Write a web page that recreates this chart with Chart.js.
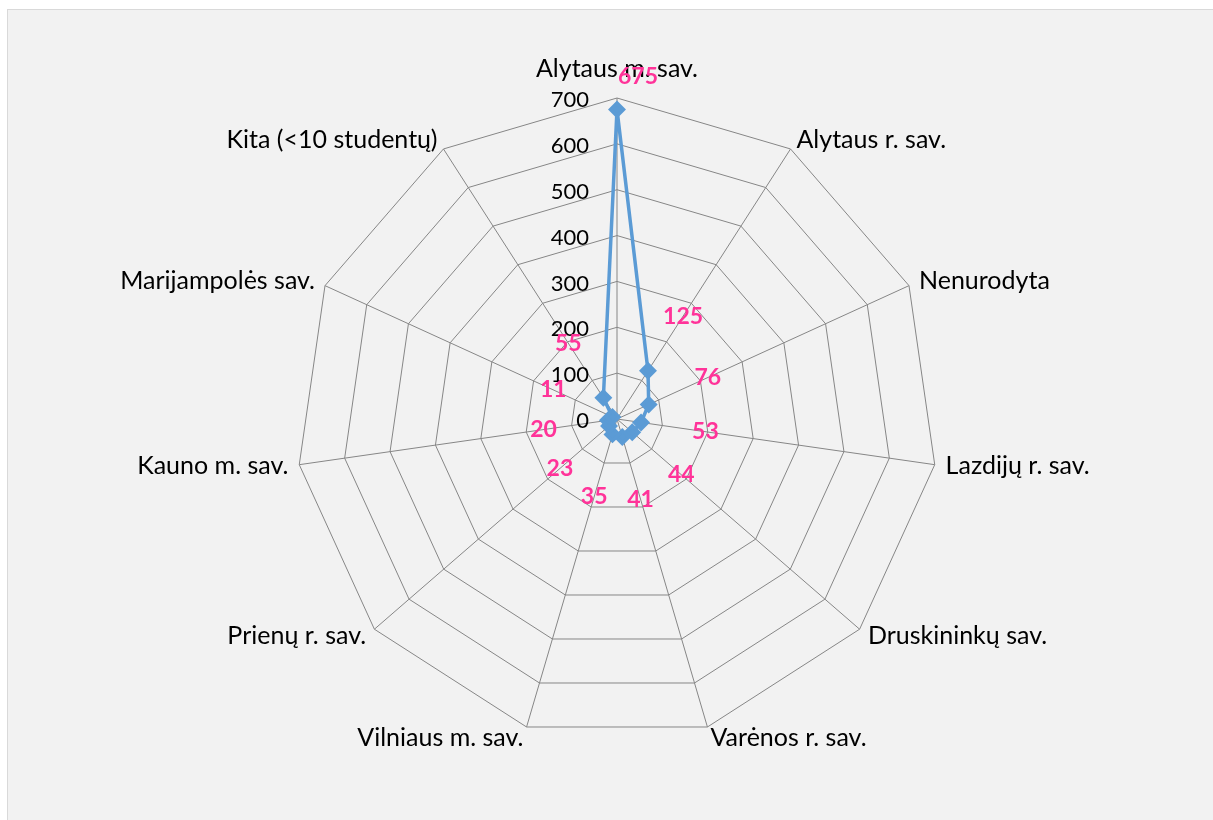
<!DOCTYPE html>
<html>
<head>
<meta charset="utf-8">
<script src="https://cdn.jsdelivr.net/npm/chart.js"></script>
<style>
html, body { margin: 0; padding: 0; background: #fff; }
#frame { position: absolute; left: 7px; top: 9px; width: 1206px; height: 811px; background: #f2f2f2; border-left: 1px solid #d9d9d9; border-top: 1px solid #d9d9d9; }
#wrap { position: absolute; left: 0; top: 0; width: 1213px; height: 820px; }
</style>
</head>
<body>
<div id="frame"></div>
<div id="wrap"><canvas id="myChart"></canvas></div>
<script>
// Data
var categories = [
  "Alytaus m. sav.", "Alytaus r. sav.", "Nenurodyta", "Lazdijų r. sav.",
  "Druskininkų sav.", "Varėnos r. sav.", "Vilniaus m. sav.", "Prienų r. sav.",
  "Kauno m. sav.", "Marijampolės sav.", "Kita (<10 studentų)"
];
var students = [675, 125, 76, 53, 44, 41, 35, 23, 20, 11, 55];
var tickValues = [0, 100, 200, 300, 400, 500, 600, 700];

// labels drawn by hand, Excel style
var excelLabels = {
  id: "excelLabels",
  beforeDatasetsDraw: function (chart) {
    var ctx = chart.ctx;
    var r = chart.scales.r;
    var R = r.drawingArea;
    var n = categories.length;
    ctx.save();
    ctx.fillStyle = "#000";

    // value axis labels, left of the top spoke
    ctx.font = "22px Lato";
    ctx.textAlign = "right";
    ctx.textBaseline = "middle";
    tickValues.forEach(function (v) {
      var d = r.getDistanceFromCenterForValue(v);
      ctx.fillText(String(v), r.xCenter - 28, r.yCenter - d + 2);
    });

    // category labels
    ctx.font = "25px Lato";
    categories.forEach(function (name, i) {
      var angle = i * 360 / n;
      if (angle === 0) {
        ctx.textAlign = "center";
        ctx.textBaseline = "alphabetic";
        ctx.fillText(name, r.xCenter, r.yCenter - R - 21);
        return;
      }
      var p = r.getPointPosition(i, R + 11);
      ctx.textAlign = angle < 180 ? "left" : "right";
      ctx.textBaseline = "middle";
      ctx.fillText(name, p.x, p.y);
    });
    ctx.restore();
  },
  afterDatasetsDraw: function (chart) {
    var ctx = chart.ctx;
    var r = chart.scales.r;
    var R = r.drawingArea;
    ctx.save();
    ctx.fillStyle = "#ff3399";
    ctx.font = "bold 23px Lato";
    ctx.textAlign = "center";
    ctx.textBaseline = "middle";
    students.forEach(function (v, i) {
      var d = r.getDistanceFromCenterForValue(v) + 65;
      var shift = 0;
      if (d > R + 21) { d = R + 21; shift = 21; } // no room outside: push it aside
      var p = r.getPointPosition(i, d);
      ctx.fillText(String(v), p.x + shift, p.y);
    });
    ctx.restore();
  }
};

new Chart("myChart", {
  type: "radar",
  data: {
    labels: categories,
    datasets: [{
      data: students,
      borderColor: "#5b9bd5",
      backgroundColor: "#5b9bd5",
      borderWidth: 3.5,
      fill: false,
      pointStyle: "rectRot",
      pointRadius: 6.5,
      pointBackgroundColor: "#5b9bd5",
      pointBorderColor: "#5b9bd5"
    }]
  },
  options: {
    responsive: true,
    maintainAspectRatio: false,
    animation: false,
    layout: { padding: { left: 296, right: 275, top: 98, bottom: 80 } },
    plugins: {
      legend: { display: false },
      tooltip: { enabled: false }
    },
    scales: {
      r: {
        min: 0,
        max: 700,
        ticks: { stepSize: 100, display: false },
        grid: { color: "#868686", lineWidth: 1 },
        angleLines: { color: "#868686", lineWidth: 1 },
        pointLabels: { display: false }
      }
    }
  },
  plugins: [excelLabels]
});
</script>
</body>
</html>
